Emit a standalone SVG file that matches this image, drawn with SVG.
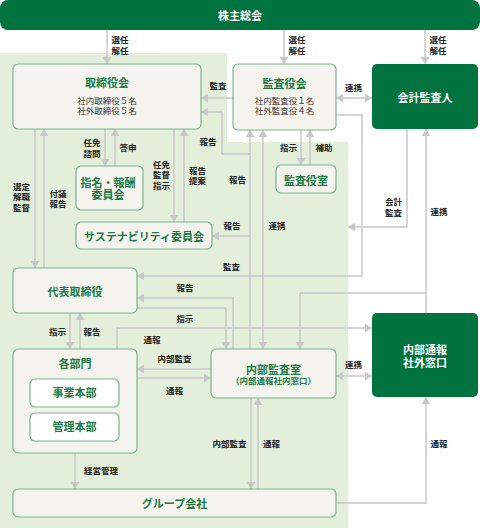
<svg xmlns="http://www.w3.org/2000/svg" width="480" height="528" viewBox="0 0 480 528">
<defs>
<style>
text{font-family:"Liberation Sans","Noto Sans CJK JP",sans-serif;dominant-baseline:central;text-anchor:middle}
.lbl{font-size:8.5px;font-weight:700;fill:#222}
.ttl{font-size:11px;font-weight:700;fill:#1b7a45}
.sub{font-size:8.5px;fill:#333}
.wt{font-size:11px;font-weight:700;fill:#fff}
.box{fill:#f4f3ee;stroke:#7ab58f;stroke-width:1.2}
.dark{fill:#00733e}
.c{fill:none;stroke:#c8c8c8;stroke-width:1.5}
.a{marker-end:url(#ah)}
.b{marker-end:url(#ah);marker-start:url(#ah)}
</style>
<marker id="ah" viewBox="0 0 7 9" refX="7" refY="4.5" markerWidth="7" markerHeight="9" markerUnits="userSpaceOnUse" orient="auto-start-reverse">
<path d="M0,0 L7,4.5 L0,9 z" fill="#c8c8c8"/>
</marker>
</defs>
<rect width="480" height="528" fill="#fff"/>
<polygon points="0,53 227,53 227,142 348,142 348,528 0,528" fill="#e3efda"/>

<g id="connectors">
<path class="c a" d="M107,30 V64"/>
<path class="c a" d="M284,30 V64"/>
<path class="c a" d="M425,30 V64"/>
<path class="c a" d="M233,98 H201"/>
<path class="c a" d="M250,154 H222 V112 H201"/>
<path class="c a" d="M250,349 V130"/>
<path class="c b" d="M263,349 V130"/>
<path class="c a" d="M301,130 V165"/>
<path class="c a" d="M310,165 V130"/>
<path class="c b" d="M336,98 H372"/>
<path class="c a" d="M336,115 H362 V276 H137"/>
<path class="c a" d="M407,129 V227 H348"/>
<path class="c a" d="M426,313 V129"/>
<path class="c a" d="M426,293 H300 V349"/>
<path class="c a" d="M250,236 H212"/>
<path class="c a" d="M35,129 V268"/>
<path class="c a" d="M44,268 V129"/>
<path class="c a" d="M105,129 V166"/>
<path class="c a" d="M115,166 V129"/>
<path class="c a" d="M174,129 V222"/>
<path class="c a" d="M184,222 V129"/>
<path class="c a" d="M233,349 V298 H137"/>
<path class="c a" d="M137,308 H226 V349"/>
<path class="c a" d="M117,349 V328 H372"/>
<path class="c a" d="M70,313 V349"/>
<path class="c a" d="M80,349 V313"/>
<path class="c a" d="M75,453 V489"/>
<path class="c a" d="M211,369 H137"/>
<path class="c a" d="M137,378 H211"/>
<path class="c b" d="M336,376 H372"/>
<path class="c a" d="M251,398 V489"/>
<path class="c a" d="M258,489 V398"/>
<path class="c a" d="M336,503 H426 V397"/>

<text class="lbl" x="120" y="39.5">選任</text><text class="lbl" x="120" y="50.5">解任</text>
<text class="lbl" x="297" y="39.5">選任</text><text class="lbl" x="297" y="50.5">解任</text>
<text class="lbl" x="438" y="39.5">選任</text><text class="lbl" x="438" y="50.5">解任</text>
<text class="lbl" x="218" y="86">監査</text>
<text class="lbl" x="353.5" y="88">連携</text>
<text class="lbl" x="208" y="141.5">報告</text>
<text class="lbl" x="237.5" y="180">報告</text>
<text class="lbl" x="232" y="226">報告</text>
<text class="lbl" x="277" y="226">連携</text>
<text class="lbl" x="288.5" y="147.5">指示</text>
<text class="lbl" x="324" y="147.5">補助</text>
<text class="lbl" x="393.5" y="202">会計</text><text class="lbl" x="393.5" y="212.5">監査</text>
<text class="lbl" x="439" y="212">連携</text>
<text class="lbl" x="231.5" y="267">監査</text>
<text class="lbl" x="185" y="288">報告</text>
<text class="lbl" x="185" y="319">指示</text>
<text class="lbl" x="152" y="339.5">通報</text>
<text class="lbl" x="174.5" y="359">内部監査</text>
<text class="lbl" x="174.5" y="391">通報</text>
<text class="lbl" x="353.5" y="365">連携</text>
<text class="lbl" x="229.5" y="444">内部監査</text>
<text class="lbl" x="271.5" y="444">通報</text>
<text class="lbl" x="439" y="444">通報</text>
<text class="lbl" x="101" y="471">経営管理</text>
<text class="lbl" x="57.5" y="331.5">指示</text>
<text class="lbl" x="92" y="331.5">報告</text>
<text class="lbl" x="21.5" y="186.5">選定</text><text class="lbl" x="21.5" y="197">解職</text><text class="lbl" x="21.5" y="207.5">監督</text>
<text class="lbl" x="58" y="193.5">付議</text><text class="lbl" x="58" y="204">報告</text>
<text class="lbl" x="92" y="142.5">任免</text><text class="lbl" x="92" y="153.5">諮問</text>
<text class="lbl" x="128" y="147.5">答申</text>
<text class="lbl" x="161.5" y="164.5">任免</text><text class="lbl" x="161.5" y="175">監督</text><text class="lbl" x="161.5" y="186">指示</text>
<text class="lbl" x="197.5" y="170.5">報告</text><text class="lbl" x="197.5" y="181">提案</text>
</g>

<g id="shareholders">
<rect class="dark" x="0" y="0" width="480" height="30" rx="8"/>
<text class="wt" x="240" y="16">株主総会</text>
</g>
<g id="board">
<rect class="box" x="13" y="64" width="188" height="65" rx="5"/>
<text class="ttl" x="107" y="83">取締役会</text>
<text class="sub" x="107" y="100.5">社内取締役５名</text>
<text class="sub" x="107" y="111">社外取締役５名</text>
</g>
<g id="auditboard">
<rect class="box" x="233" y="64" width="103" height="66" rx="5"/>
<text class="ttl" x="284.5" y="84">監査役会</text>
<text class="sub" x="284.5" y="100.5">社内監査役１名</text>
<text class="sub" x="284.5" y="111">社外監査役４名</text>
</g>
<g id="accountant">
<rect class="dark" x="372" y="64" width="106" height="65" rx="5"/>
<text class="wt" x="425" y="98">会計監査人</text>
</g>
<g id="nomination">
<rect class="box" x="76" y="166" width="67" height="44" rx="5"/>
<text class="ttl" x="108" y="182.5">指名・報酬</text>
<text class="ttl" x="108" y="194.5">委員会</text>
</g>
<g id="sustainability">
<rect class="box" x="76" y="222" width="136" height="27" rx="5"/>
<text class="ttl" x="144" y="237">サステナビリティ委員会</text>
</g>
<g id="auditoffice">
<rect class="box" x="276" y="165" width="60" height="28" rx="5"/>
<text class="ttl" x="306" y="180.5">監査役室</text>
</g>
<g id="ceo">
<rect class="box" x="13" y="268" width="124" height="45" rx="5"/>
<text class="ttl" x="75" y="292">代表取締役</text>
</g>
<g id="departments">
<rect class="box" x="13" y="349" width="124" height="104" rx="5"/>
<text class="ttl" x="75" y="364">各部門</text>
</g>
<g id="business">
<rect class="box" x="30" y="379" width="89" height="28" rx="5" style="fill:#fff"/>
<text class="ttl" x="74.5" y="393">事業本部</text>
</g>
<g id="admin">
<rect class="box" x="30" y="413" width="89" height="28" rx="5" style="fill:#fff"/>
<text class="ttl" x="74.5" y="427">管理本部</text>
</g>
<g id="internalaudit">
<rect class="box" x="211" y="349" width="125" height="49" rx="5"/>
<text class="ttl" x="273.5" y="370">内部監査室</text>
<text class="ttl" x="273.5" y="380.5" style="font-size:8.5px">（内部通報社内窓口）</text>
</g>
<g id="external">
<rect class="dark" x="372" y="313" width="106" height="84" rx="5"/>
<text class="wt" x="425" y="350">内部通報</text>
<text class="wt" x="425" y="363">社外窓口</text>
</g>
<g id="group">
<rect class="box" x="13" y="489" width="323" height="28" rx="5"/>
<text class="ttl" x="174.5" y="503.5">グループ会社</text>
</g>
</svg>
